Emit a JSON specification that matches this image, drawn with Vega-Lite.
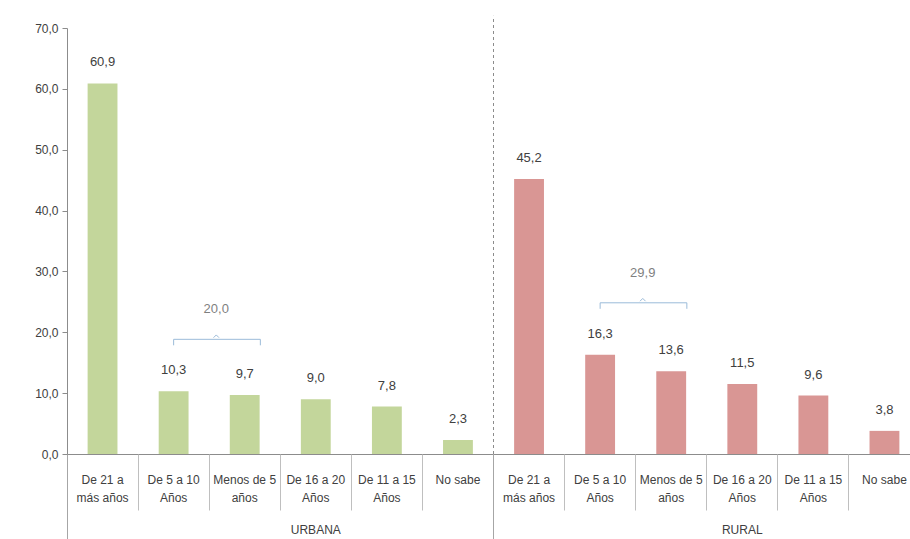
{
  "$schema": "https://vega.github.io/schema/vega-lite/v6.json",
  "width": 843,
  "height": 426,
  "autosize": {"type": "none"},
  "padding": {"left": 67, "top": 28, "right": 0, "bottom": 85},
  "config": {
    "locale": {"number": {"decimal": ",", "thousands": ".", "grouping": [3], "currency": ["", ""]}},
    "view": {"stroke": null},
    "font": "Liberation Sans",
    "axis": {"labelFont": "Liberation Sans", "titleFont": "Liberation Sans"},
    "text": {"font": "Liberation Sans"}
  },
  "datasets": {
    "bars": [
      {"group": "URBANA", "cat": "De 21 a más años", "v": 60.9},
      {"group": "URBANA", "cat": "De 5 a 10 Años", "v": 10.3},
      {"group": "URBANA", "cat": "Menos de 5 años", "v": 9.7},
      {"group": "URBANA", "cat": "De 16 a 20 Años", "v": 9.0},
      {"group": "URBANA", "cat": "De 11 a 15 Años", "v": 7.8},
      {"group": "URBANA", "cat": "No sabe", "v": 2.3},
      {"group": "RURAL", "cat": "De 21 a más años", "v": 45.2},
      {"group": "RURAL", "cat": "De 5 a 10 Años", "v": 16.3},
      {"group": "RURAL", "cat": "Menos de 5 años", "v": 13.6},
      {"group": "RURAL", "cat": "De 16 a 20 Años", "v": 11.5},
      {"group": "RURAL", "cat": "De 11 a 15 Años", "v": 9.6},
      {"group": "RURAL", "cat": "No sabe", "v": 3.8}
    ],
    "brackets": [
      {"group": "URBANA", "from": "URBANA|De 5 a 10 Años", "to": "URBANA|Menos de 5 años", "total": 20.0, "base": 10.3},
      {"group": "RURAL", "from": "RURAL|De 5 a 10 Años", "to": "RURAL|Menos de 5 años", "total": 29.9, "base": 16.3}
    ],
    "sep": [
      {"key": "RURAL|De 21 a más años"}
    ]
  },
  "resolve": {"axis": {"x": "independent"}},
  "layer": [
    {
      "data": {"name": "bars"},
      "transform": [{"calculate": "datum.group + '|' + datum.cat", "as": "key"}],
      "mark": {"type": "bar", "width": {"band": 0.42}},
      "encoding": {
        "x": {
          "field": "key", "type": "nominal", "sort": null,
          "scale": {"type": "band", "paddingInner": 0, "paddingOuter": 0, "range": [0, 853], "domain": ["URBANA|De 21 a más años", "URBANA|De 5 a 10 Años", "URBANA|Menos de 5 años", "URBANA|De 16 a 20 Años", "URBANA|De 11 a 15 Años", "URBANA|No sabe", "RURAL|De 21 a más años", "RURAL|De 5 a 10 Años", "RURAL|Menos de 5 años", "RURAL|De 16 a 20 Años", "RURAL|De 11 a 15 Años", "RURAL|No sabe"]},
          "axis": {
            "orient": "bottom", "title": null, "ticks": false, "tickSize": 0, "domain": true, "domainColor": "#8c8c8c",
            "labelAngle": 0, "labelPadding": 20, "labelFontSize": 12, "labelLineHeight": 18, "labelColor": "#404040", "labelBaseline": "top",
            "labelExpr": "split(datum.value,'|')[1] == 'No sabe' ? 'No sabe' : split(datum.value,'|')[1] == 'De 21 a más años' ? ['De 21 a','más años'] : [slice(split(datum.value,'|')[1], 0, lastindexof(split(datum.value,'|')[1], ' ')), slice(split(datum.value,'|')[1], lastindexof(split(datum.value,'|')[1], ' ') + 1)]"
          }
        },
        "y": {
          "field": "v", "type": "quantitative",
          "scale": {"domain": [0, 70], "nice": false},
          "axis": {"title": null, "grid": false, "values": [0, 10, 20, 30, 40, 50, 60, 70], "format": ".1f", "tickSize": 5, "tickColor": "#8c8c8c", "domainColor": "#8c8c8c", "labelFontSize": 12, "labelColor": "#404040", "labelPadding": 4}
        },
        "color": {"field": "group", "type": "nominal", "scale": {"domain": ["URBANA", "RURAL"], "range": ["#c3d69b", "#d99694"]}, "legend": null}
      }
    },
    {
      "data": {"name": "bars"},
      "transform": [{"calculate": "datum.group + '|' + datum.cat", "as": "key"}],
      "mark": {"type": "text", "baseline": "alphabetic", "dy": -17, "fontSize": 13, "color": "#404040"},
      "encoding": {
        "x": {"field": "key", "type": "nominal", "sort": null, "axis": null},
        "y": {"field": "v", "type": "quantitative"},
        "text": {"field": "v", "type": "quantitative", "format": ".1f"}
      }
    },
    {
      "data": {"name": "sep"},
      "mark": {"type": "rule", "strokeDash": [3, 3], "color": "#8c8c8c", "strokeWidth": 1},
      "encoding": {
        "x": {
          "field": "key", "type": "nominal", "bandPosition": 0,
          "axis": {
            "orient": "bottom", "title": null, "bandPosition": 0, "domain": false, "ticks": true, "tickSize": 56, "tickColor": "#bfbfbf",
            "labelAngle": 0, "labelPadding": 14, "labelFontSize": 12, "labelColor": "#404040", "labelBaseline": "top", "labelAlign": "center",
            "labelExpr": "datum.value == 'URBANA|De 16 a 20 Años' ? 'URBANA' : datum.value == 'RURAL|De 16 a 20 Años' ? 'RURAL' : ''"
          }
        },
        "y": {"datum": 0, "type": "quantitative"},
        "y2": {"datum": 72}
      }
    },
    {
      "data": {"name": "brackets"},
      "mark": {"type": "rule", "color": "#9bbbd9", "yOffset": -52},
      "encoding": {
        "x": {
          "field": "from", "type": "nominal", "bandPosition": 0.5,
          "axis": {"orient": "bottom", "title": null, "bandPosition": 0, "domain": false, "labels": false, "ticks": true, "tickSize": 90, "tickColor": "#a6a6a6", "values": ["URBANA|De 21 a más años", "RURAL|De 21 a más años"]}
        },
        "x2": {"field": "to", "bandPosition": 0.72},
        "y": {"field": "base", "type": "quantitative"}
      }
    },
    {
      "data": {"name": "brackets"},
      "mark": {"type": "rule", "color": "#9bbbd9", "yOffset": -52, "y2Offset": -46},
      "encoding": {
        "x": {"field": "from", "type": "nominal", "bandPosition": 0.5, "axis": null},
        "y": {"field": "base", "type": "quantitative"},
        "y2": {"field": "base"}
      }
    },
    {
      "data": {"name": "brackets"},
      "mark": {"type": "rule", "color": "#9bbbd9", "yOffset": -52, "y2Offset": -46},
      "encoding": {
        "x": {"field": "to", "type": "nominal", "bandPosition": 0.72, "axis": null},
        "y": {"field": "base", "type": "quantitative"},
        "y2": {"field": "base"}
      }
    },
    {
      "data": {"name": "brackets"},
      "mark": {"type": "point", "shape": "M-1,0.5L0,-0.5L1,0.5", "filled": false, "size": 30, "color": "#9bbbd9", "strokeWidth": 1, "opacity": 1, "yOffset": -55},
      "encoding": {
        "x": {"field": "to", "type": "nominal", "bandPosition": 0.1, "axis": null},
        "y": {"field": "base", "type": "quantitative"}
      }
    },
    {
      "data": {"name": "brackets"},
      "mark": {"type": "text", "baseline": "middle", "fontSize": 13, "color": "#7f7f7f", "yOffset": -82},
      "encoding": {
        "x": {"field": "to", "type": "nominal", "bandPosition": 0.1, "axis": null},
        "y": {"field": "base", "type": "quantitative"},
        "text": {"field": "total", "type": "quantitative", "format": ".1f"}
      }
    }
  ]
}
